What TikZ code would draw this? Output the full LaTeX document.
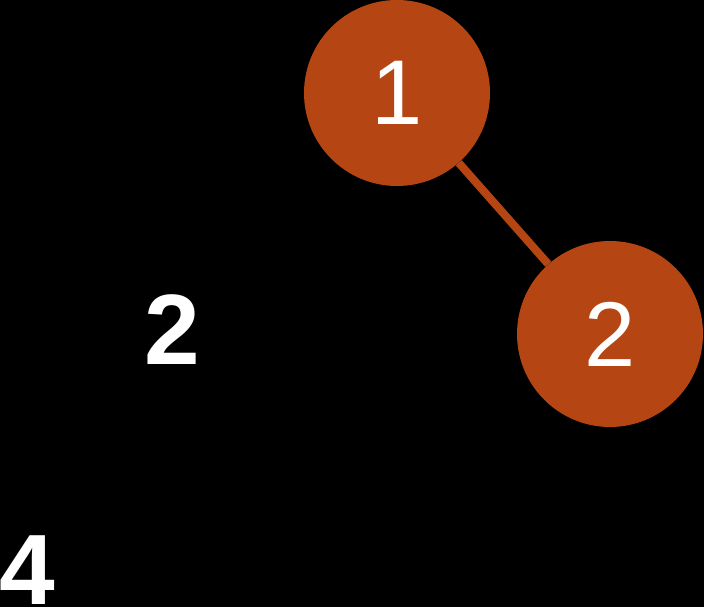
\documentclass[tikz,border=0pt]{standalone}
\usepackage{fontspec}
\setmainfont{Liberation Sans}
\definecolor{rust}{RGB}{181,69,18}

\begin{document}
\begin{tikzpicture}[x=1pt, y=1pt,
	ball/.style={circle, fill=rust, text=white, minimum size=186pt, inner sep=0pt, font=\fontsize{92}{92}\selectfont},
	digit/.style={text=white, inner sep=0pt, font=\fontsize{100}{100}\selectfont\bfseries}]
	% The background
	\fill[black] (0, 0) rectangle (704, 607);
	\useasboundingbox (0, 0) rectangle (704, 607);
	% The connected balls
	\node[ball] (one) at (397, 514) {1};
	\node[ball] (two) at (610, 273) {2};
	\draw[rust, line width=8pt] (one) -- (two);
	% The loose digits
	\node[digit] (left) at (172, 277) {2};
	\node[digit] (low) at (27, 37) {4};
\end{tikzpicture}
\end{document}
